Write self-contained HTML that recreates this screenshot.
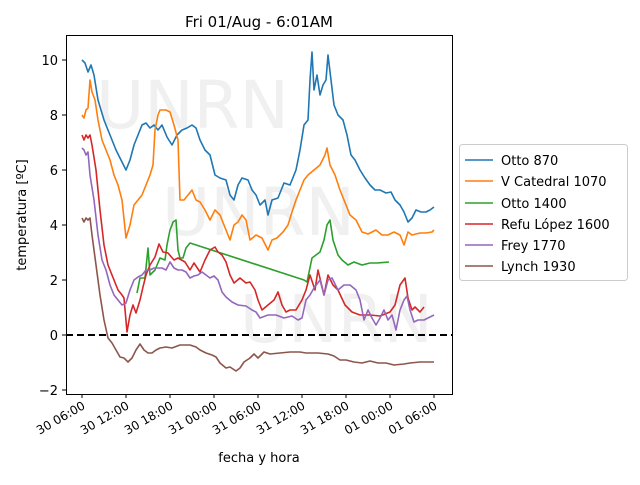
<!DOCTYPE html><html><head><style>body{margin:0;background:#fff}svg{font-family:"DejaVu Sans","Liberation Sans",sans-serif}</style></head><body>
<svg width="640" height="480" viewBox="0 0 640 480">
<rect width="640" height="480" fill="#fff"/>
<g fill="#f0f0f0" font-size="66">
<text x="96" y="128">UNRN</text><text x="162" y="235">UNRN</text><text x="240" y="342">UNRN</text></g>
<line x1="66" y1="335" x2="452" y2="335" stroke="#000" stroke-width="2" stroke-dasharray="7,4"/>
<g fill="none" stroke-width="1.6" stroke-linejoin="round">
<polyline stroke="#1f77b4" points="82,60 85,63 88,72 91,65 94,75 98,100 104,120 110,135 116,150 121,160 126,170 130,160 134,145 138,135 142,125 146,123 150,128 154,125 158,130 162,125 167,137 172,145 177,135 182,130 187,128 192,125 196,128 200,140 205,150 210,155 215,175 220,178 226,180 230,195 234,200 238,185 242,178 248,180 252,190 256,195 260,205 265,200 268,215 272,200 278,198 284,183 290,185 296,170 300,150 304,125 308,120 310,80 312,52 314,90 317,75 320,95 323,85 326,80 328,55 331,80 334,105 338,115 343,120 347,135 351,155 355,160 360,170 365,178 370,185 375,190 380,190 386,193 391,192 395,200 400,205 404,212 408,222 412,218 416,210 421,212 426,212 430,210 434,207"/>
<polyline stroke="#ff7f0e" points="82,115 84,118 86,110 88,108 90,80 92,92 95,100 98,120 102,140 106,150 110,160 114,175 118,185 122,200 126,238 130,225 134,205 138,200 142,195 146,185 150,175 153,165 155,130 158,115 160,110 166,110 170,112 174,125 178,140 180,200 184,200 188,195 192,190 196,200 200,202 205,210 210,220 215,210 220,215 226,230 230,240 234,225 238,222 242,215 246,220 250,240 256,235 262,238 268,250 272,240 277,238 283,232 288,225 292,212 296,200 300,190 304,180 308,175 314,170 320,165 325,155 327,148 330,165 335,175 340,190 346,205 350,215 356,220 362,232 368,234 376,230 382,235 388,235 394,232 400,235 404,245 408,232 412,235 420,233 426,233 432,232 434,230"/>
<polyline stroke="#2ca02c" points="137,293 140,278 145,278 148,248 150,275 155,270 160,258 165,260 167,245 170,230 172,225 173,222 176,220 178,250 180,258 183,258 186,248 190,243 304,280 307,282 312,258 316,255 320,252 324,240 327,225 330,220 333,240 338,255 342,260 348,265 354,262 362,265 370,263 377,263 389,262"/>
<polyline stroke="#d62728" points="82,135 84,140 86,135 88,138 90,135 92,145 96,170 100,210 104,245 108,265 114,280 118,290 122,295 124,298 127,332 130,315 133,305 136,313 140,300 143,287 146,275 150,265 155,257 159,244 163,252 168,253 174,260 178,258 185,262 190,270 194,263 200,272 205,260 210,250 215,247 218,252 222,255 226,262 230,275 234,283 240,278 246,283 250,282 255,290 258,300 262,310 268,305 274,300 278,292 282,305 286,312 290,310 296,310 302,300 306,290 310,275 315,290 318,270 324,295 328,275 333,285 338,290 345,305 352,312 360,315 370,315 380,316 390,312 395,305 400,285 405,278 408,298 412,310 415,307 420,312 424,307"/>
<polyline stroke="#9467bd" points="82,148 84,150 86,155 88,152 90,175 94,200 98,235 102,260 106,270 110,285 114,295 118,300 122,305 126,303 130,290 134,280 138,277 142,275 146,270 150,270 154,268 158,268 162,268 166,270 170,262 174,268 178,270 182,270 186,272 190,278 194,276 198,275 202,272 206,275 210,278 214,276 218,280 222,292 226,297 232,302 238,305 246,306 252,310 256,312 260,318 268,315 276,315 284,318 292,316 298,320 302,318 306,300 310,295 314,288 320,280 324,295 328,280 332,278 338,290 344,285 350,285 356,290 360,300 364,320 368,310 372,318 376,325 380,318 384,310 388,320 392,315 396,330 400,310 404,300 407,296 410,310 414,322 418,320 424,320 428,318 434,315"/>
<polyline stroke="#8c564b" points="82,218 84,222 86,218 88,220 90,218 92,235 96,265 100,295 104,320 108,338 112,343 116,350 120,357 124,358 128,362 132,358 136,350 140,344 144,350 148,353 152,353 156,350 160,348 166,347 172,348 180,345 186,345 190,345 196,347 200,350 206,353 212,355 216,357 220,363 226,368 230,367 236,371 240,368 244,362 250,358 254,354 258,358 264,352 270,354 280,353 290,352 300,352 306,353 312,353 318,353 328,354 334,356 340,360 346,360 354,362 362,363 370,361 378,363 386,363 394,365 404,364 410,363 420,362 434,362"/>
</g>
<rect x="66.5" y="35.5" width="386" height="359" fill="none" stroke="#000" stroke-width="1"/>
<g stroke="#000"><line x1="62" x2="66" y1="390" y2="390"/><line x1="62" x2="66" y1="335" y2="335"/><line x1="62" x2="66" y1="280" y2="280"/><line x1="62" x2="66" y1="225" y2="225"/><line x1="62" x2="66" y1="170" y2="170"/><line x1="62" x2="66" y1="115" y2="115"/><line x1="62" x2="66" y1="60" y2="60"/>
<line x1="82" x2="82" y1="394" y2="398"/><line x1="126" x2="126" y1="394" y2="398"/><line x1="170" x2="170" y1="394" y2="398"/><line x1="214" x2="214" y1="394" y2="398"/><line x1="258" x2="258" y1="394" y2="398"/><line x1="302" x2="302" y1="394" y2="398"/><line x1="346" x2="346" y1="394" y2="398"/><line x1="390" x2="390" y1="394" y2="398"/><line x1="434" x2="434" y1="394" y2="398"/></g>
<g font-size="13" text-anchor="end"><text x="58" y="395">−2</text><text x="58" y="340">0</text><text x="58" y="285">2</text><text x="58" y="230">4</text><text x="58" y="175">6</text><text x="58" y="120">8</text><text x="58" y="65">10</text></g>
<g font-size="12" text-anchor="end">
<text transform="translate(86,408) rotate(-30)">30 06:00</text><text transform="translate(130,408) rotate(-30)">30 12:00</text><text transform="translate(174,408) rotate(-30)">30 18:00</text><text transform="translate(218,408) rotate(-30)">31 00:00</text><text transform="translate(262,408) rotate(-30)">31 06:00</text><text transform="translate(306,408) rotate(-30)">31 12:00</text><text transform="translate(350,408) rotate(-30)">31 18:00</text><text transform="translate(394,408) rotate(-30)">01 00:00</text><text transform="translate(438,408) rotate(-30)">01 06:00</text></g>
<text x="259" y="462" font-size="13" text-anchor="middle">fecha y hora</text>
<text transform="translate(26,215) rotate(-90)" font-size="13" text-anchor="middle">temperatura [ºC]</text>
<text x="259" y="27" font-size="15" text-anchor="middle">Fri 01/Aug - 6:01AM</text>
<rect x="459.5" y="144.5" width="168" height="136" rx="3" fill="#fff" stroke="#ccc"/>
<g stroke-width="1.6"><line x1="465" x2="493" y1="160" y2="160" stroke="#1f77b4"/><line x1="465" x2="493" y1="181" y2="181" stroke="#ff7f0e"/><line x1="465" x2="493" y1="203" y2="203" stroke="#2ca02c"/><line x1="465" x2="493" y1="224" y2="224" stroke="#d62728"/><line x1="465" x2="493" y1="245" y2="245" stroke="#9467bd"/><line x1="465" x2="493" y1="266" y2="266" stroke="#8c564b"/></g>
<g font-size="13"><text x="501" y="165">Otto 870</text><text x="501" y="186">V Catedral 1070</text><text x="501" y="208">Otto 1400</text><text x="501" y="229">Refu López 1600</text><text x="501" y="250">Frey 1770</text><text x="501" y="271">Lynch 1930</text></g>
</svg></body></html>
